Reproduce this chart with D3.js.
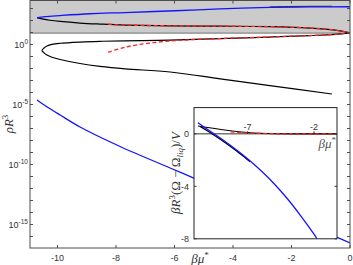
<!DOCTYPE html>
<html>
<head>
<meta charset="utf-8">
<script src="https://cdn.jsdelivr.net/npm/d3@7/dist/d3.min.js"></script>
<style>
  html, body { margin: 0; padding: 0; background: #fff; }
  svg { display: block; }
</style>
</head>
<body>
<div id="chart"></div>
<script>
// ─── Main panel data (βμ*, log10 ρR³) ───
const gasTopMu   = [-10.70, -10.43, -9.91, -8.89, -7.69, -5.98, -4.44, -2.74, -1.37, 0];
const gasTopLog  = [2.233, 2.325, 2.417, 2.567, 2.667, 2.817, 2.967, 3.092, 3.133, 3.15];

const hiddenMu   = [-2.74, -1.71, -0.62];
const hiddenLog  = [3.14, 3.18, 3.19];

const denseLowMu  = [-10.70, -10.53, -10.26, -9.91, -9.23, -8.55, -7.69, -6.15, -4.44, -2.74, -1.37, -0.51, 0];
const denseLowLog = [2.233, 2.142, 2.025, 1.925, 1.792, 1.708, 1.625, 1.558, 1.533, 1.492, 1.375, 1.208, 0.975];

const midUpMu  = [-10.53, -10.46, -10.36, -10.19, -9.91, -9.23, -8.55, -7.69, -6.15, -4.44, -2.74, -1.37, -0.51, 0];
const midUpLog = [-0.5, -0.292, -0.125, 0.017, 0.108, 0.208, 0.267, 0.308, 0.375, 0.5, 0.625, 0.75, 0.85, 0.975];

const midLowMu  = [-10.53, -10.46, -10.36, -10.19, -9.91, -9.23, -8.55, -7.69, -6.15, -4.44, -2.74, -0.62];
const midLowLog = [-0.5, -0.692, -0.875, -1.058, -1.25, -1.583, -1.817, -2.025, -2.292, -2.858, -3.425, -4.125];

const dashTopMu  = [-8.27, -7.69, -6.15, -4.44, -2.74, -1.37, -0.51, 0];
const dashTopLog = [1.69, 1.625, 1.558, 1.533, 1.492, 1.375, 1.208, 0.975];

const dashMidMu  = [-8.27, -7.69, -6.84, -5.81, -4.44, -2.74, -1.37, -0.51, 0];
const dashMidLog = [-0.64, -0.22, 0.125, 0.35, 0.5, 0.625, 0.75, 0.85, 0.975];

const gasLowMu  = [-10.70, -10.43, -9.91, -9.23, -7.86, -6.15, -5.30, -3.08, -0.44, 0];
const gasLowLog = [-4.625, -5.083, -5.875, -6.875, -8.5, -10.29, -11.17, -13.46, -16.08, -16.54];

const bandLog = 0.95;

const xTicks = [-10, -8, -6, -4, -2, 0];
const yLabelExp = [0, -5, -10, -15];

// ─── Inset data (βμ*, βR³(Ω−Ω_liq)/V) ───
const inBlueMu  = [-10.73, -10, -9, -8, -7, -6, -5, -4, -3, -2, -1.78];
const inBlueVal = [0.85, 0.33, -0.36, -1.1, -1.9, -2.8, -3.8, -4.95, -6.25, -7.65, -8.0];

const inBlackAMu  = [-10.55, -10, -9, -8, -7.2, -6.8];
const inBlackAVal = [0.55, 0.22, -0.45, -1.17, -1.8, -2.13];

const inBlackBMu  = [-10.73, -10, -9, -8, -7, -6, -5, -3, -0.27];
const inBlackBVal = [0.6, 0.48, 0.33, 0.2, 0.1, 0.04, 0.01, 0, 0];

const inDashMu  = [-8.27, -7, -5, -3, -0.27];
const inDashVal = [0.15, 0.06, 0.01, 0, 0];

const inXTicks = [-7, -2];
const inYTicks = [0, -4, -8];

// ─── Setup ───
const W = 353, H = 265;
const svg = d3.select('#chart').append('svg')
  .attr('width', W).attr('height', H)
  .attr('viewBox', `0 0 ${W} ${H}`);

const x = d3.scaleLinear().domain([-10.94, 0]).range([30, 350]);
const y = d3.scaleLog().domain([Math.pow(10, -16.96), Math.pow(10, 3.67)]).range([248, 0.5]);

const axisColor = '#4d4d4d';
const labelColor = '#333';
const tickFont = "'Liberation Sans', Arial, sans-serif";
const serif = "'Liberation Serif', 'Times New Roman', serif";

const defs = svg.append('defs');
defs.append('clipPath').attr('id', 'mainClip')
  .append('rect').attr('x', 30).attr('y', 0.5).attr('width', 320).attr('height', 247.5);

const zip = (a, b) => a.map((v, i) => [v, b[i]]);
const mainLine = d3.line()
  .x(d => x(d[0]))
  .y(d => y(Math.pow(10, d[1])))
  .curve(d3.curveCatmullRom.alpha(0.5));

// Gray band
svg.append('rect')
  .attr('x', 30).attr('y', 0.5)
  .attr('width', 320).attr('height', y(Math.pow(10, bandLog)) - 0.5)
  .attr('fill', '#cbcbcb');
svg.append('line')
  .attr('x1', 30).attr('x2', 350)
  .attr('y1', y(Math.pow(10, bandLog))).attr('y2', y(Math.pow(10, bandLog)))
  .attr('stroke', '#555').attr('stroke-width', 0.8);

const g = svg.append('g').attr('clip-path', 'url(#mainClip)');

function draw(parent, data, color, width, dash, gen) {
  parent.append('path')
    .attr('d', gen(data))
    .attr('fill', 'none')
    .attr('stroke', color)
    .attr('stroke-width', width)
    .attr('stroke-dasharray', dash || null)
    .attr('stroke-linejoin', 'round');
}

// hidden black branch under the blue one
draw(g, zip(hiddenMu, hiddenLog), '#222', 1, null, mainLine);
// upper C: blue upper + black lower
draw(g, zip(denseLowMu, denseLowLog), '#000', 1.2, null, mainLine);
draw(g, zip(gasTopMu, gasTopLog), '#1414ff', 1.3, null, mainLine);
// middle C (black)
const midC = zip(midLowMu, midLowLog).reverse().concat(zip(midUpMu, midUpLog).slice(1));
draw(g, midC, '#000', 1.2, null, mainLine);
// red dashed
draw(g, zip(dashTopMu, dashTopLog), '#ff2020', 1.3, '4,2.5', mainLine);
draw(g, zip(dashMidMu, dashMidLog), '#ff2020', 1.3, '4,2.5', mainLine);
// lower gas branch
draw(g, zip(gasLowMu, gasLowLog), '#1414ff', 1.3, null, mainLine);

// ─── Main axes ───
const ax = svg.append('g');
ax.append('rect')
  .attr('x', 30).attr('y', 0.5).attr('width', 320).attr('height', 247.5)
  .attr('fill', 'none').attr('stroke', axisColor).attr('stroke-width', 1);

xTicks.forEach(t => {
  const px = x(t);
  ax.append('line').attr('x1', px).attr('x2', px).attr('y1', 248).attr('y2', 245)
    .attr('stroke', axisColor);
  ax.append('line').attr('x1', px).attr('x2', px).attr('y1', 0.5).attr('y2', 3.5)
    .attr('stroke', axisColor);
  ax.append('text')
    .attr('x', px).attr('y', 261)
    .attr('text-anchor', 'middle')
    .attr('font-family', tickFont).attr('font-size', '9px')
    .attr('fill', labelColor)
    .text(t === 0 ? '0' : '-' + Math.abs(t));
});

d3.range(-16, 4).forEach(e => {
  const py = y(Math.pow(10, e));
  ax.append('line').attr('x1', 30).attr('x2', 33).attr('y1', py).attr('y2', py)
    .attr('stroke', axisColor);
  ax.append('line').attr('x1', 350).attr('x2', 347).attr('y1', py).attr('y2', py)
    .attr('stroke', axisColor);
});

yLabelExp.forEach(e => {
  const py = y(Math.pow(10, e));
  const t = ax.append('text')
    .attr('x', 28).attr('y', py + 3.5)
    .attr('text-anchor', 'end')
    .attr('font-family', tickFont).attr('font-size', '9px')
    .attr('fill', labelColor);
  t.append('tspan').text('10');
  t.append('tspan').attr('dy', -4).attr('font-size', '6.5px').text(e === 0 ? '0' : '-' + Math.abs(e));
});

// axis labels
const yl = svg.append('text')
  .attr('transform', 'translate(13,124) rotate(-90)')
  .attr('text-anchor', 'middle')
  .attr('font-family', serif).attr('font-size', '13px')
  .attr('fill', labelColor);
yl.append('tspan').attr('font-style', 'italic').text('ρR');
yl.append('tspan').attr('dy', -5).attr('font-size', '9px').text('3');

const xl = svg.append('text')
  .attr('x', 200).attr('y', 263)
  .attr('text-anchor', 'middle')
  .attr('font-family', serif).attr('font-size', '13px')
  .attr('fill', labelColor);
xl.append('tspan').attr('font-style', 'italic').text('βμ');
xl.append('tspan').attr('dy', -5).attr('font-size', '9px').text('*');

// ─── Inset ───
const ix = d3.scaleLinear().domain([-11.03, -0.27]).range([194, 337]);
const iy = d3.scaleLinear().domain([-8, 2]).range([238.8, 107.6]);

svg.append('rect')
  .attr('x', 194).attr('y', 107.6).attr('width', 143).attr('height', 131.2)
  .attr('fill', '#fff');

defs.append('clipPath').attr('id', 'insetClip')
  .append('rect').attr('x', 194).attr('y', 107.6).attr('width', 143).attr('height', 131.2);

const ig = svg.append('g').attr('clip-path', 'url(#insetClip)');
const inLine = d3.line()
  .x(d => ix(d[0]))
  .y(d => iy(d[1]))
  .curve(d3.curveCatmullRom.alpha(0.5));

// zero axis
ig.append('line')
  .attr('x1', 194).attr('x2', 337).attr('y1', iy(0)).attr('y2', iy(0))
  .attr('stroke', '#333').attr('stroke-width', 1);

draw(ig, zip(inBlackBMu, inBlackBVal), '#000', 1.1, null, inLine);
draw(ig, zip(inBlackAMu, inBlackAVal), '#000', 1.3, null, inLine);
draw(ig, zip(inBlueMu, inBlueVal), '#1414ff', 1.3, null, inLine);
draw(ig, zip(inDashMu, inDashVal), '#ff2020', 1.3, '4,2.5', inLine);

svg.append('rect')
  .attr('x', 194).attr('y', 107.6).attr('width', 143).attr('height', 131.2)
  .attr('fill', 'none').attr('stroke', '#222').attr('stroke-width', 1);

inXTicks.forEach(t => {
  const px = ix(t);
  svg.append('line').attr('x1', px).attr('x2', px).attr('y1', iy(0)).attr('y2', iy(0) - 2.5)
    .attr('stroke', '#333');
  svg.append('text')
    .attr('x', px).attr('y', iy(0) - 4)
    .attr('text-anchor', 'middle')
    .attr('font-family', tickFont).attr('font-size', '9px')
    .attr('fill', labelColor)
    .text('-' + Math.abs(t));
});

inYTicks.forEach(t => {
  const py = iy(t);
  svg.append('line').attr('x1', 194).attr('x2', 196.5).attr('y1', py).attr('y2', py)
    .attr('stroke', '#333');
  svg.append('line').attr('x1', 337).attr('x2', 334.5).attr('y1', py).attr('y2', py)
    .attr('stroke', '#333');
  svg.append('text')
    .attr('x', 189).attr('y', py + 3.2)
    .attr('text-anchor', 'end')
    .attr('font-family', tickFont).attr('font-size', '9px')
    .attr('fill', labelColor)
    .text(t === 0 ? '0' : '-' + Math.abs(t));
});

const ixl = svg.append('text')
  .attr('x', 336).attr('y', 148)
  .attr('text-anchor', 'end')
  .attr('font-family', serif).attr('font-size', '13px')
  .attr('fill', '#555');
ixl.append('tspan').attr('font-style', 'italic').text('βμ');
ixl.append('tspan').attr('dy', -5).attr('font-size', '9px').text('*');

const iyl = svg.append('text')
  .attr('transform', 'translate(180,173) rotate(-90)')
  .attr('text-anchor', 'middle')
  .attr('font-family', serif).attr('font-size', '13px')
  .attr('fill', labelColor);
iyl.append('tspan').attr('font-style', 'italic').text('βR');
iyl.append('tspan').attr('dy', -5).attr('font-size', '9px').text('3');
iyl.append('tspan').attr('dy', 5).text('(Ω − Ω');
iyl.append('tspan').attr('dy', 3).attr('font-size', '9px').attr('font-style', 'italic').text('liq');
iyl.append('tspan').attr('dy', -3).text(')/');
iyl.append('tspan').attr('font-style', 'italic').text('V');
</script>
</body>
</html>
